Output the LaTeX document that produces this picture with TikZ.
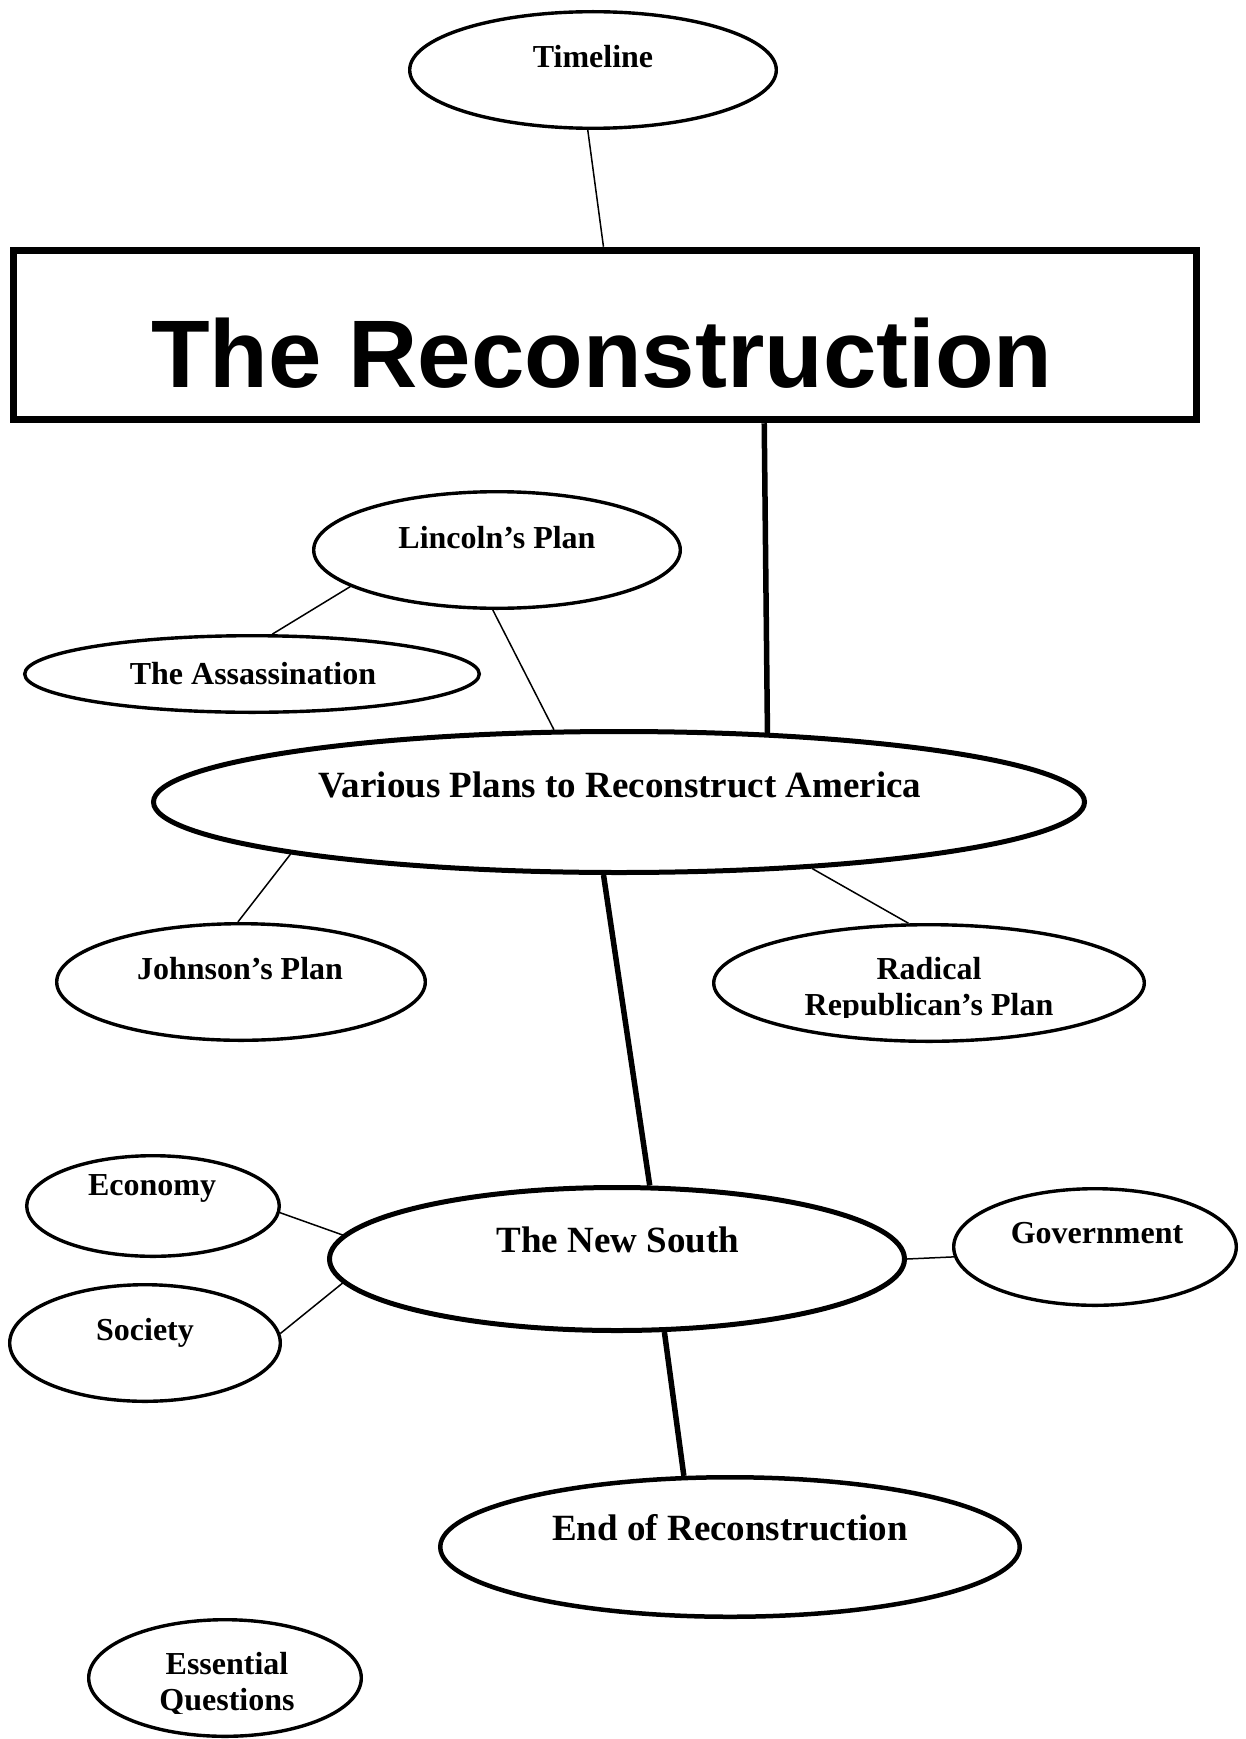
\documentclass[tikz,border=0pt]{standalone}
\usepackage{fontspec}
\setmainfont{Liberation Serif}
\newfontfamily\headfont{Liberation Sans}
\usetikzlibrary{shapes.geometric}

\tikzset{
  bubble/.style={ellipse, draw, line width=3.4pt, inner sep=0pt},
  bigbubble/.style={ellipse, draw, line width=5pt, inner sep=0pt},
  lbl/.style={anchor=base, inner sep=0pt, font=\bfseries\fontsize{32}{36}\selectfont},
  biglbl/.style={anchor=base, inner sep=0pt, font=\bfseries\fontsize{37}{40}\selectfont},
  thin link/.style={line width=1.5pt},
  thick link/.style={line width=5.5pt},
}

\begin{document}
\begin{tikzpicture}[x=1pt,y=-1pt]
\useasboundingbox (0,0) rectangle (1246,1739);

% title box
\node[draw, line width=7.5pt, inner sep=0pt, minimum width=1183, minimum height=169] (title) at (605,335) {};
\node[anchor=base, inner sep=0pt, font=\headfont\bfseries\fontsize{96}{100}\selectfont] (titletext) at (602,387) {The Reconstruction};

% bubbles
\node[bubble, minimum width=366.6, minimum height=116.6] (tl) at (593,70) {};
\node[lbl] (tltext) at (593,68) {Timeline};

\node[bubble, minimum width=366.6, minimum height=116.6] (lp) at (497,550) {};
\node[lbl] (lptext) at (497,548) {Lincoln’s Plan};

\node[bubble, minimum width=454.6, minimum height=76.6] (as) at (252,674) {};
\node[lbl] (astext) at (253,684) {The Assassination};

\node[bigbubble, minimum width=931, minimum height=141] (vp) at (619,802) {};
\node[biglbl] (vptext) at (620,797) {Various Plans to Reconstruct America};

\node[bubble, minimum width=368.6, minimum height=116.6] (jp) at (241,982) {};
\node[lbl] (jptext) at (240,979) {Johnson’s Plan};

\node[bubble, minimum width=430.6, minimum height=116.6] (rr) at (929,983) {};
\node[lbl] (rrtext) at (929,979) {Radical};
\begin{scope}
  \clip (700,990) rectangle (1160,1017);
  \node[lbl] (rrtextb) at (929,1015) {Republican’s Plan};
\end{scope}

\node[bigbubble, minimum width=575, minimum height=143] (ns) at (617,1259) {};
\node[biglbl] (nstext) at (618,1252) {The New South};

\node[bubble, minimum width=282.6, minimum height=116.6] (gov) at (1095,1247) {};
\node[lbl] (govtext) at (1097,1243) {Government};

\node[bubble, minimum width=252.6, minimum height=100.6] (econ) at (153,1206) {};
\node[lbl] (econtext) at (152,1195) {Economy};

\node[bubble, minimum width=270.6, minimum height=116.6] (soc) at (145,1343) {};
\node[lbl] (soctext) at (145,1340) {Society};

\node[ellipse, draw, line width=4.5pt, inner sep=0pt, minimum width=579.5, minimum height=139.5] (er) at (730,1547) {};
\node[biglbl] (ertext) at (730,1540) {End of Reconstruction};

\node[bubble, minimum width=272.6, minimum height=116.6] (eq) at (225,1678) {};
\node[lbl] (eqtext) at (227,1674) {Essential};
\begin{scope}
  \clip (80,1682) rectangle (370,1713);
  \node[lbl] (eqtextb) at (227,1710) {Questions};
\end{scope}

% connectors
\draw[thin link] (tl.265.4) -- (title.91.3);
\draw[thick link] (title.331.5) -- (vp.25);
\draw[thin link] (lp.266.25) -- (vp.132);
\draw[thin link] (lp.194) -- (as.63.4);
\draw[thin link] (vp.189.5) -- (jp.93.75);
\draw[thin link] (vp.341.3) -- (rr.109.8);
\draw[thick link] (vp.258.4) -- (ns.66.6);
\draw[thick link] (ns.303.9) -- (er.123.7);
\draw[thin link] (ns.0) -- (gov.184.9);
\draw[thin link] (econ.357.7) -- (ns.175.1);
\draw[thin link] (soc.4.6) -- (ns.185.05);
\end{tikzpicture}
\end{document}
